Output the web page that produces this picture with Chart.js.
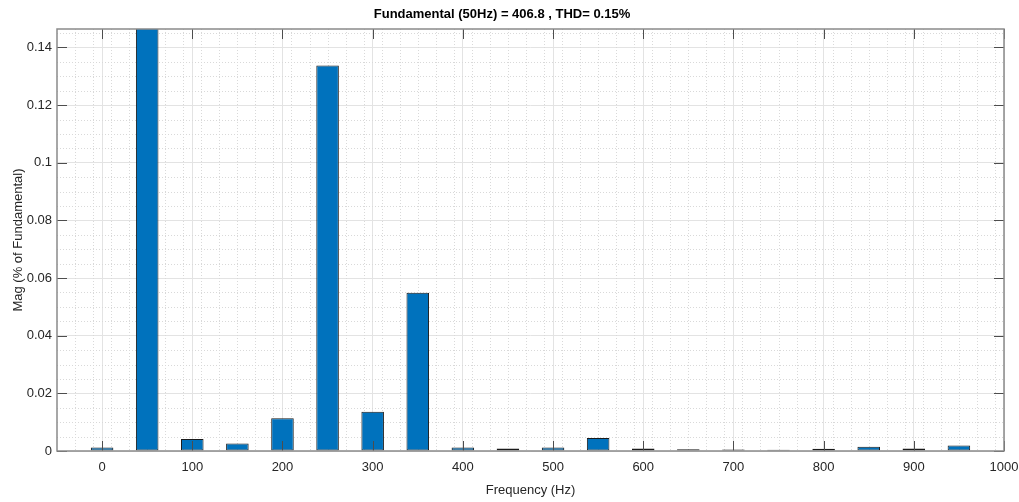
<!DOCTYPE html>
<html>
<head>
<meta charset="utf-8">
<script src="https://cdn.jsdelivr.net/npm/chart.js@4/dist/chart.umd.min.js"></script>
<style>
html, body { margin: 0; padding: 0; background: #fff; }
#myChart { display: block; }
</style>
</head>
<body>
<canvas id="myChart" width="1019" height="502"></canvas>
<script>
// harmonic spectrum, % of fundamental (fundamental bar is clipped by the y limit)
var freqs = [0, 50, 100, 150, 200, 250, 300, 350, 400, 450, 500, 550, 600, 650, 700, 750, 800, 850, 900, 950];
var mags = [0.0012, 100, 0.0042, 0.0026, 0.0114, 0.1337, 0.0136, 0.0549, 0.0012, 0.0009, 0.0012, 0.0045, 0.0009, 0.0006, 0.0005, 0.0004, 0.0008, 0.0015, 0.0009, 0.0019];
var xTicks = [0, 100, 200, 300, 400, 500, 600, 700, 800, 900, 1000];
var yTicks = [0, 0.02, 0.04, 0.06, 0.08, 0.1, 0.12, 0.14];
var xMinorStep = 20;
var yMinorStep = 0.005;

var fam = "'Liberation Sans Narrow', 'Liberation Sans', Arial, sans-serif";
var txtColor = '#262626';

var matlabAxes = {
    id: 'matlabAxes',
    beforeDatasetsDraw: function (chart) {
        var a = chart.chartArea, x = chart.scales.x, y = chart.scales.y, ctx = chart.ctx;
        ctx.save();
        ctx.strokeStyle = '#d9d9d9';
        ctx.lineWidth = 1;
        ctx.setLineDash([1, 2]);
        var v, p;
        for (v = x.min + xMinorStep; v < x.max; v += xMinorStep) {
            if (Math.abs(v % 100) < 1e-6) continue;
            p = Math.round(x.getPixelForValue(v)) + 0.5;
            ctx.beginPath(); ctx.moveTo(p, a.top); ctx.lineTo(p, a.bottom); ctx.stroke();
        }
        for (v = y.min + yMinorStep; v < y.max; v += yMinorStep) {
            var r = Math.round(v / 0.02 * 1000) / 1000;
            if (Math.abs(r - Math.round(r)) < 1e-3) continue;
            p = Math.round(y.getPixelForValue(v)) + 0.5;
            ctx.beginPath(); ctx.moveTo(a.left, p); ctx.lineTo(a.right, p); ctx.stroke();
        }
        ctx.restore();
    },
    afterDatasetsDraw: function (chart) {
        var a = chart.chartArea, x = chart.scales.x, y = chart.scales.y, ctx = chart.ctx;
        ctx.save();
        ctx.strokeStyle = '#4d4d4d';
        ctx.lineWidth = 1;
        var len = 10;
        xTicks.forEach(function (t) {
            var p = Math.round(x.getPixelForValue(t)) + 0.5;
            ctx.beginPath(); ctx.moveTo(p, a.bottom); ctx.lineTo(p, a.bottom - len); ctx.stroke();
            ctx.beginPath(); ctx.moveTo(p, a.top); ctx.lineTo(p, a.top + len); ctx.stroke();
        });
        yTicks.forEach(function (t) {
            var p = Math.round(y.getPixelForValue(t)) + 0.5;
            ctx.beginPath(); ctx.moveTo(a.left, p); ctx.lineTo(a.left + len, p); ctx.stroke();
            ctx.beginPath(); ctx.moveTo(a.right, p); ctx.lineTo(a.right - len, p); ctx.stroke();
        });
        ctx.strokeStyle = '#8a8a8a';
        ctx.lineWidth = 1.5;
        ctx.strokeRect(a.left, a.top, a.right - a.left, a.bottom - a.top);
        ctx.restore();
    }
};

var points = freqs.map(function (f, i) { return { x: f, y: mags[i] }; });

var ctx = document.getElementById('myChart').getContext('2d');
var myChart = new Chart(ctx, {
    type: 'bar',
    data: {
        datasets: [{
            data: points,
            backgroundColor: '#0072BD',
            borderColor: '#1a1a1a',
            borderWidth: 1,
            borderSkipped: false,
            barPercentage: 0.5,
            categoryPercentage: 1,
            clip: 0
        }]
    },
    options: {
        responsive: false,
        animation: false,
        layout: { padding: { left: 0, right: 15, top: 0, bottom: 0 } },
        plugins: {
            legend: { display: false },
            tooltip: { enabled: false },
            title: {
                display: true,
                text: 'Fundamental (50Hz) = 406.8 , THD= 0.15%',
                color: '#000',
                font: { family: fam, size: 13, weight: 'bold' },
                padding: { top: 7, bottom: 6.4 }
            }
        },
        scales: {
            x: {
                type: 'linear',
                min: -50,
                max: 1000,
                offset: false,
                afterBuildTicks: function (s) { s.ticks = xTicks.map(function (v) { return { value: v }; }); },
                afterFit: function (s) { s.height = 51; s.paddingLeft = 0; s.paddingRight = 0; },
                grid: { color: '#e3e3e3', drawTicks: false, offset: false },
                border: { display: false },
                ticks: {
                    color: txtColor, padding: 9, maxRotation: 0,
                    font: { family: fam, size: 13 },
                    callback: function (v) { return String(v); }
                },
                title: {
                    display: true, text: 'Frequency (Hz)', color: txtColor,
                    font: { family: fam, size: 13 },
                    padding: { top: 0, bottom: 4 }
                }
            },
            y: {
                min: 0,
                max: 0.1464,
                afterBuildTicks: function (s) { s.ticks = yTicks.map(function (v) { return { value: v }; }); },
                afterFit: function (s) { s.width = 57; s.paddingTop = 0; s.paddingBottom = 0; },
                grid: { color: '#e3e3e3', drawTicks: false },
                border: { display: false },
                ticks: {
                    color: txtColor, padding: 5,
                    font: { family: fam, size: 13 },
                    callback: function (v) { return String(+v.toFixed(3)); }
                },
                title: {
                    display: true, text: 'Mag (% of Fundamental)', color: txtColor,
                    font: { family: fam, size: 13 },
                    padding: { top: 11, bottom: 0 }
                }
            }
        }
    },
    plugins: [matlabAxes]
});
</script>
</body>
</html>
